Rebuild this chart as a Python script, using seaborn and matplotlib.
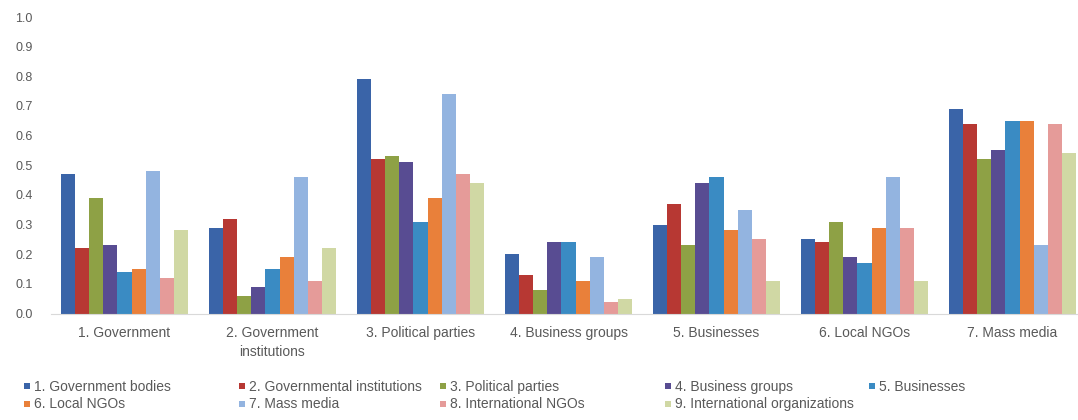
import matplotlib
matplotlib.use("Agg")
import matplotlib.pyplot as plt
from matplotlib.lines import Line2D
import seaborn as sns
import pandas as pd

# Group categories along the x axis
categories = [
    "1. Government",
    "2. Government\ninstitutions",
    "3. Political parties",
    "4. Business groups",
    "5. Businesses",
    "6. Local NGOs",
    "7. Mass media",
]

# Series shown within each group
series = [
    "1. Government bodies",
    "2. Governmental institutions",
    "3. Political parties",
    "4. Business groups",
    "5. Businesses",
    "6. Local NGOs",
    "7. Mass media",
    "8. International NGOs",
    "9. International organizations",
]

# Values per series, one entry per category
gov_bodies = [0.47, 0.29, 0.79, 0.20, 0.30, 0.25, 0.69]
gov_institutions = [0.22, 0.32, 0.52, 0.13, 0.37, 0.24, 0.64]
political_parties = [0.39, 0.06, 0.53, 0.08, 0.23, 0.31, 0.52]
business_groups = [0.23, 0.09, 0.51, 0.24, 0.44, 0.19, 0.55]
businesses = [0.14, 0.15, 0.31, 0.24, 0.46, 0.17, 0.65]
local_ngos = [0.15, 0.19, 0.39, 0.11, 0.28, 0.29, 0.65]
mass_media = [0.48, 0.46, 0.74, 0.19, 0.35, 0.46, 0.23]
intl_ngos = [0.12, 0.11, 0.47, 0.04, 0.25, 0.29, 0.64]
intl_orgs = [0.28, 0.22, 0.44, 0.05, 0.11, 0.11, 0.54]

yticks = [0.0, 0.1, 0.2, 0.3, 0.4, 0.5, 0.6, 0.7, 0.8, 0.9, 1.0]
ytick_labels = ["0.0", "0.1", "0.2", "0.3", "0.4", "0.5", "0.6", "0.7", "0.8", "0.9", "1.0"]

colors = ["#3A64A8", "#B73833", "#8EA145", "#584C92", "#3A8BC3",
          "#E9803A", "#93B4E0", "#E59B99", "#D0D8A4"]

series_values = [gov_bodies, gov_institutions, political_parties, business_groups,
                 businesses, local_ngos, mass_media, intl_ngos, intl_orgs]

rows = []
for s, vals in zip(series, series_values):
    for c, v in zip(categories, vals):
        rows.append({"category": c, "series": s, "value": v})
df = pd.DataFrame(rows)

sns.set_theme(style="white")
plt.rcParams["font.family"] = ["Liberation Sans", "DejaVu Sans"]
text_color = "#595959"

fig = plt.figure(figsize=(10.78, 4.2), dpi=100)
ax = fig.add_axes([50.5 / 1078, 1 - 313.5 / 420, 1036 / 1078, (313.5 - 17) / 420])

sns.barplot(data=df, x="category", y="value", hue="series", order=categories,
            hue_order=series, palette=colors, saturation=1, width=0.855,
            dodge=True, gap=0, legend=False, linewidth=0, errorbar=None, ax=ax)

ax.set_xlim(-0.5, 6.5)
ax.set_ylim(0, 1.0)
ax.set_yticks(yticks)
ax.set_yticklabels(ytick_labels)
ax.set_xlabel("")
ax.set_ylabel("")
for side in ["top", "right", "left"]:
    ax.spines[side].set_visible(False)
ax.spines["bottom"].set_color("#D9D9D9")
ax.spines["bottom"].set_linewidth(0.8)
ax.tick_params(axis="y", length=0, pad=13, labelsize=9, labelcolor=text_color)
ax.tick_params(axis="x", length=0, pad=9, labelsize=10, labelcolor=text_color)
for lab in ax.get_xticklabels():
    lab.set_linespacing(1.45)

# Legend laid out in five columns, filled row by row
col_x = [23, 238, 439, 664, 868]
columns = [[0, 5], [1, 6], [2, 7], [3, 8], [4]]
for x, idxs in zip(col_x, columns):
    handles = [Line2D([0], [0], marker="s", linestyle="none", markersize=4,
                      markerfacecolor=colors[i], markeredgewidth=0) for i in idxs]
    labels = [series[i] for i in idxs]
    fig.legend(handles, labels, loc="upper left",
               bbox_to_anchor=(x / 1078, 1 - 380 / 420), frameon=False,
               fontsize=10, labelcolor=text_color, handlelength=0.6,
               handletextpad=0.2, labelspacing=0.25, borderpad=0,
               borderaxespad=0)

fig.savefig("out.png", dpi=100, facecolor="white")
